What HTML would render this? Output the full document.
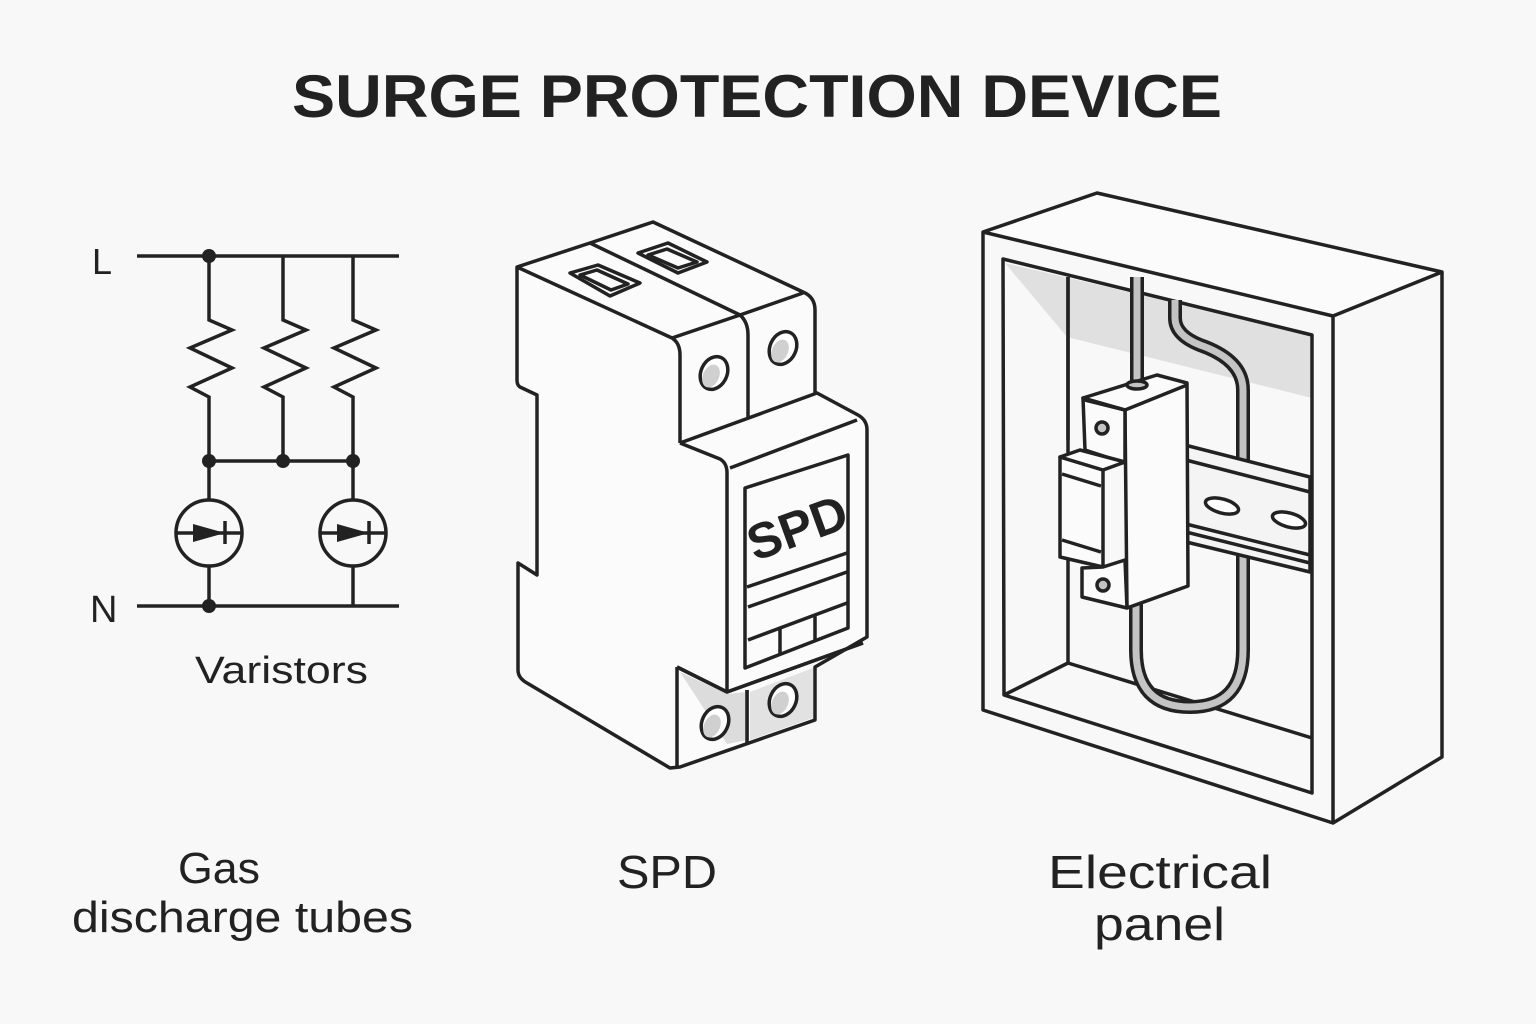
<!DOCTYPE html>
<html><head><meta charset="utf-8"><style>
html,body{margin:0;padding:0;background:#f8f8f8;}
svg{display:block;}
text{font-family:"Liberation Sans","DejaVu Sans",sans-serif;fill:#222;}
</style></head><body>
<svg width="1536" height="1024" viewBox="0 0 1536 1024" xmlns="http://www.w3.org/2000/svg">
<rect width="1536" height="1024" fill="#f8f8f8"/>
<text x="292" y="117" font-size="60" font-weight="bold" textLength="930" lengthAdjust="spacingAndGlyphs">SURGE PROTECTION DEVICE</text>

<!-- circuit -->
<g stroke="#222" stroke-width="3.5" fill="none" stroke-linejoin="miter">
<line x1="137" y1="256" x2="399" y2="256"/>
<line x1="137" y1="606" x2="399" y2="606"/>
<polyline points="209,256 209,320 232,330 190,348 232,368 190,387 209,397 209,461"/>
<polyline points="283,256 283,320 306,330 264,348 306,368 264,387 283,397 283,461"/>
<polyline points="353,256 353,320 376,330 334,348 376,368 334,387 353,397 353,461"/>
<line x1="209" y1="461" x2="353" y2="461"/>
<line x1="209" y1="461" x2="209" y2="499"/>
<line x1="353" y1="461" x2="353" y2="499"/>
<circle cx="209" cy="533" r="33"/>
<circle cx="353" cy="533" r="33"/>
<line x1="209" y1="567" x2="209" y2="606"/>
<line x1="353" y1="567" x2="353" y2="606"/>
<line x1="177" y1="533" x2="241" y2="533"/>
<line x1="321" y1="533" x2="385" y2="533"/>
<line x1="225" y1="521" x2="225" y2="544"/>
<line x1="369" y1="521" x2="369" y2="544"/>
</g>
<g fill="#222">
<polygon points="193,524 225,533 193,542"/>
<polygon points="337,524 369,533 337,542"/>
<circle cx="209" cy="256" r="7"/><circle cx="209" cy="461" r="7"/><circle cx="283" cy="461" r="7"/><circle cx="353" cy="461" r="7"/><circle cx="209" cy="606" r="7"/>
</g>
<text x="92" y="274" font-size="36">L</text>
<text x="90" y="622" font-size="38">N</text>
<text x="195" y="683" font-size="38" textLength="173" lengthAdjust="spacingAndGlyphs">Varistors</text>
<text x="178" y="883" font-size="44" textLength="82" lengthAdjust="spacingAndGlyphs">Gas</text>
<text x="72" y="932" font-size="44" textLength="341" lengthAdjust="spacingAndGlyphs">discharge tubes</text>

<!-- SPD device -->
<g stroke="#222" stroke-width="3.5" fill="#fbfbfb" stroke-linejoin="round">
<path d="M517,267 L590,243 L653,222 L803,292 Q815,297 815,310 L815,393 L817,393 L858,415 Q867,420 867,430 L867,637 L815,667 L815,720 L680,767 L670,768 L527,683 Q518,678 518,670 L518,563 L537,575 L537,395 L520,387 Q517,385 517,380 Z"/>
</g>
<g stroke="#222" stroke-width="3.5" fill="none" stroke-linejoin="round">
<polyline points="517,267 672,338"/>
<path d="M672,338 Q680,343 680,355 L680,443"/>
<polyline points="672,338 740,315 803,293"/>
<polyline points="590,243 740,315"/>
<path d="M740,315 Q748,322 748,335 L748,417"/>
<polyline points="680,443 817,393"/>
<path d="M680,443 L720,459 Q727,463 727,473 L727,692 L863,643"/>
<line x1="730" y1="468" x2="857" y2="420"/>
<path d="M677,667 L727,692"/>
<line x1="677" y1="667" x2="677" y2="768"/>
<line x1="747" y1="690" x2="747" y2="740"/>
<polygon points="745,488 848,455 848,628 745,668"/>
<line x1="747" y1="587" x2="847" y2="553"/>
<line x1="748" y1="607" x2="847" y2="572"/>
<line x1="748" y1="640" x2="847" y2="603"/>
<line x1="780" y1="628" x2="780" y2="655"/>
<line x1="815" y1="616" x2="815" y2="642"/>
<polygon points="570,273 598,265 640,283 610,296"/>
<polygon points="580,275 597,270 628,284 611,290"/>
<polygon points="638,253 668,243 707,262 678,273"/>
<polygon points="648,255 667,249 697,262 678,268"/>
</g>
<polygon points="680,672 727,694 747,692 747,740 727,744" fill="#dcdcdc"/>
<polygon points="750,692 813,668 813,718 750,740" fill="#e2e2e2"/>
<g stroke="#222" stroke-width="3.5" fill="none">
<line x1="747" y1="690" x2="747" y2="745"/>
<path d="M677,667 L727,692 L863,643" />
</g>
<g stroke="#222" stroke-width="3.5">
<ellipse cx="714" cy="373" rx="13" ry="17" transform="rotate(25 714 373)" fill="#fff"/>
<ellipse cx="783" cy="348" rx="13" ry="17" transform="rotate(25 783 348)" fill="#fff"/>
<ellipse cx="715" cy="723" rx="13" ry="17" transform="rotate(25 715 723)" fill="#fff"/>
<ellipse cx="783" cy="700" rx="13" ry="17" transform="rotate(25 783 700)" fill="#fff"/>
</g>
<g fill="#d0d0d0">
<ellipse cx="711" cy="376" rx="8" ry="12" transform="rotate(25 711 376)"/>
<ellipse cx="780" cy="351" rx="8" ry="12" transform="rotate(25 780 351)"/>
<ellipse cx="712" cy="726" rx="8" ry="12" transform="rotate(25 712 726)"/>
<ellipse cx="780" cy="703" rx="8" ry="12" transform="rotate(25 780 703)"/>
</g>
<text x="797" y="545" font-size="50" font-weight="bold" text-anchor="middle" transform="rotate(-20 797 527)">SPD</text>
<text x="617" y="888" font-size="46" textLength="100" lengthAdjust="spacingAndGlyphs">SPD</text>

<!-- Electrical panel -->
<polygon points="983,232 1097,193 1442,272 1333,316" fill="#fbfbfb"/>
<polygon points="1005,263 1312,335 1312,398 1067,337" fill="#e0e0e0"/>
<g stroke="#222" stroke-width="3.5" fill="none" stroke-linejoin="round">
<polygon points="983,232 1097,193 1442,272 1442,757 1333,823 983,710"/>
<polyline points="983,232 1333,316 1442,272"/>
<line x1="1333" y1="316" x2="1333" y2="823"/>
<polygon points="1003,259 1312,335 1312,793 1004,695"/>
<polyline points="1068,277 1068,663 1004,695"/>
<line x1="1068" y1="663" x2="1312" y2="738"/>
<line x1="1068" y1="277" x2="1068" y2="440"/>
</g>
<!-- cables -->
<g fill="none" stroke-linecap="butt">
<path d="M1137,277 L1137,390" stroke="#222" stroke-width="14"/>
<path d="M1137,277 L1137,390" stroke="#c4c4c4" stroke-width="7"/>
<path d="M1175,300 L1175,318 Q1175,335 1200,345 Q1243,360 1243,390 L1243,470" stroke="#222" stroke-width="14"/>
<path d="M1175,300 L1175,318 Q1175,335 1200,345 Q1243,360 1243,390 L1243,470" stroke="#c4c4c4" stroke-width="7"/>
<path d="M1136,600 L1136,650 Q1136,707 1190,707 Q1243,707 1243,650 L1243,540" stroke="#222" stroke-width="14"/>
<path d="M1136,600 L1136,650 Q1136,707 1190,707 Q1243,707 1243,650 L1243,540" stroke="#c4c4c4" stroke-width="7"/>
</g>
<!-- DIN rail -->
<g stroke="#222" stroke-width="3.5" stroke-linejoin="round">
<polygon points="1177,443 1310,477 1310,572 1178,540" fill="#f4f4f4"/>
<line x1="1178" y1="458" x2="1310" y2="492" fill="none"/>
<line x1="1178" y1="522" x2="1310" y2="555" fill="none"/>
<line x1="1178" y1="530" x2="1310" y2="563" fill="none"/>
<ellipse cx="1222" cy="506" rx="17" ry="7" transform="rotate(15 1222 506)" fill="#fff"/>
<ellipse cx="1289" cy="520" rx="17" ry="7" transform="rotate(15 1289 520)" fill="#fff"/>
</g>
<!-- breaker -->
<g stroke="#222" stroke-width="3.5" fill="#fbfbfb" stroke-linejoin="round">
<polygon points="1083,398 1157,375 1187,383 1188,586 1127,608 1125,410"/>
<polygon points="1083,398 1125,410 1125,463 1085,450"/>
<polygon points="1060,457 1103,470 1103,567 1060,557"/>
<polygon points="1060,457 1080,450 1125,462 1103,470"/>
<polygon points="1082,568 1103,567 1125,560 1127,608 1082,597"/>
<polyline points="1085,400 1125,410 1187,385" fill="none"/>
<line x1="1062" y1="474" x2="1101" y2="486" fill="none"/>
<line x1="1062" y1="540" x2="1101" y2="552" fill="none"/>
<ellipse cx="1137" cy="385" rx="10" ry="4" fill="#c4c4c4"/>
<circle cx="1102" cy="428" r="6" fill="#c4c4c4"/>
<circle cx="1103" cy="585" r="6" fill="#c4c4c4"/>
</g>
<text x="1048" y="888" font-size="46" textLength="224" lengthAdjust="spacingAndGlyphs">Electrical</text>
<text x="1094" y="940" font-size="46" textLength="131" lengthAdjust="spacingAndGlyphs">panel</text>
</svg>
</body></html>
